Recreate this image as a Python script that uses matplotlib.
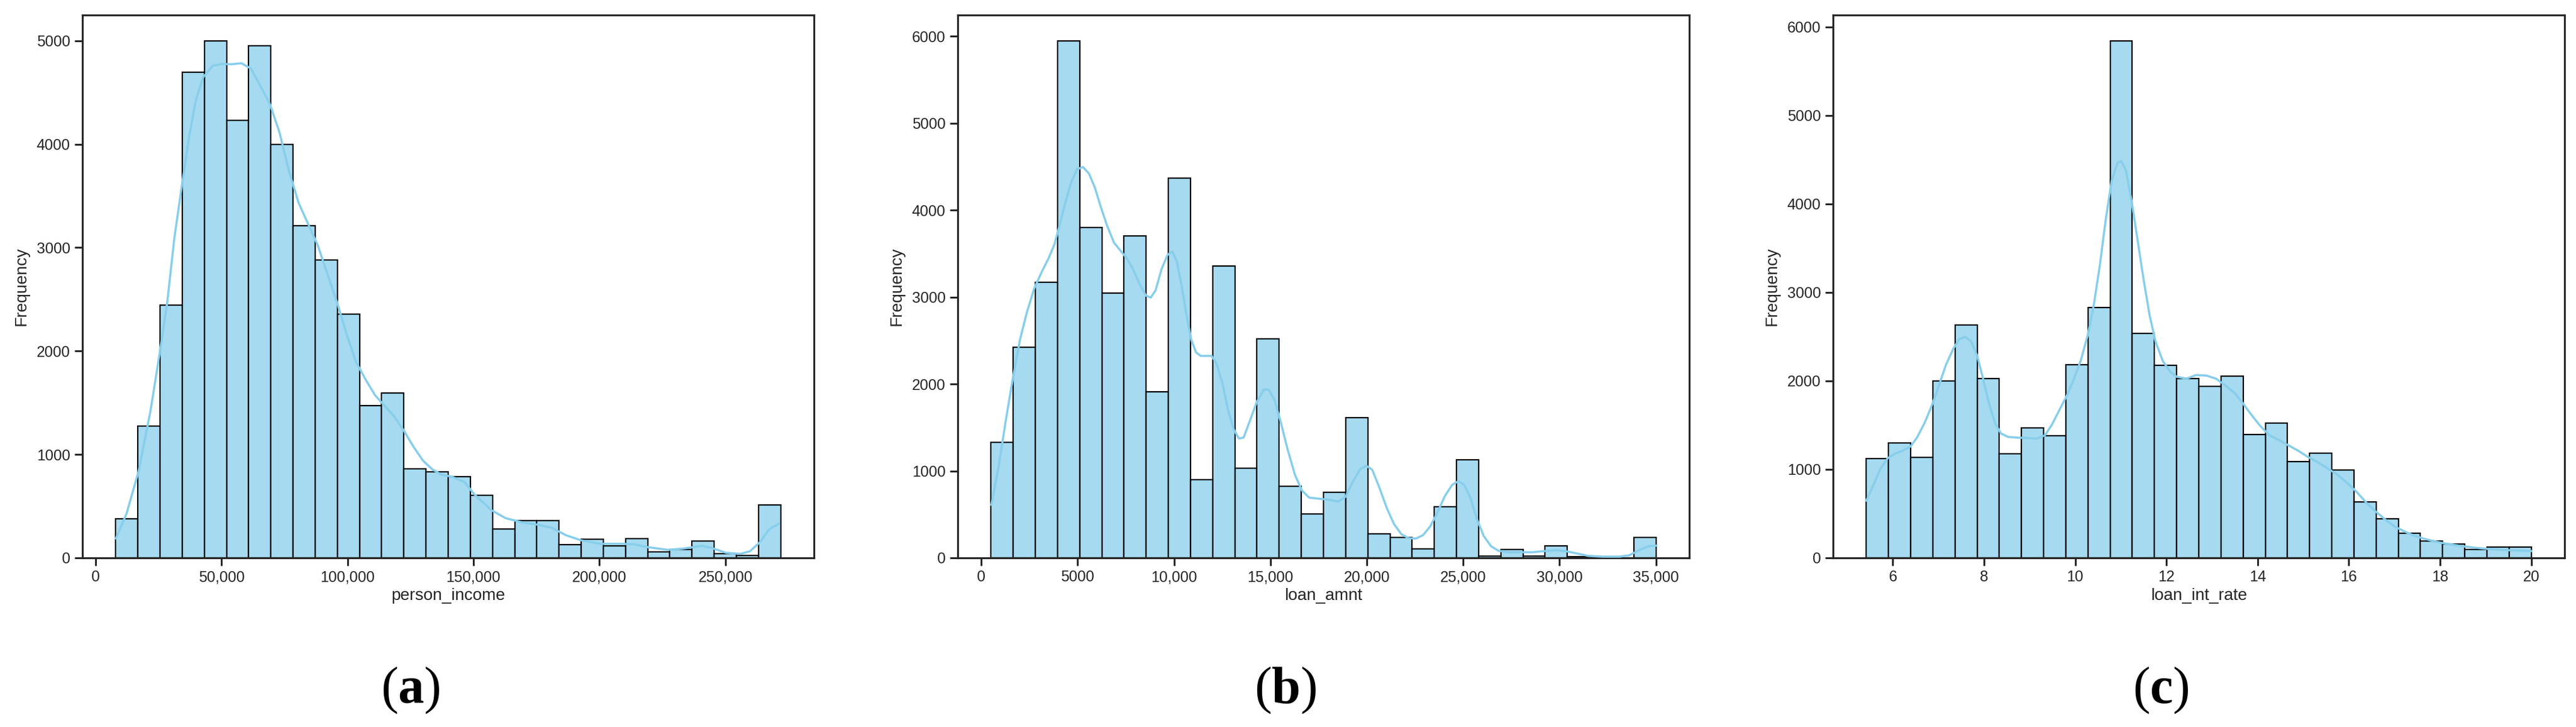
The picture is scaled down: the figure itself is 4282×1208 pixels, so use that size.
import numpy as np
import matplotlib
matplotlib.use("Agg")
import matplotlib.pyplot as plt
from matplotlib.ticker import MultipleLocator, FuncFormatter

plt.rcParams['font.family'] = ['Liberation Sans', 'DejaVu Sans']
plt.rcParams['mathtext.fontset'] = 'custom'
plt.rcParams['mathtext.rm'] = 'Liberation Serif'
plt.rcParams['mathtext.bf'] = 'Liberation Serif:bold'

# ---------------- data ----------------
income_range = (8000, 272000)
income_counts = [378, 1272, 2443, 4695, 4999, 4231, 4951, 3998, 3213, 2879,
                 2356, 1471, 1592, 863, 834, 787, 604, 281, 362, 362,
                 126, 182, 116, 187, 61, 80, 161, 43, 22, 512]
income_kde_x = [8060, 12300, 17100, 21800, 25600, 28500, 31300, 34100, 37000, 39800,
                42700, 46500, 50300, 54100, 57900, 61700, 65500, 69200, 73000, 76800,
                80600, 84400, 88200, 92000, 95800, 99600, 103400, 107200, 111000, 114800,
                118600, 122400, 126200, 130000, 133800, 137500, 141300, 146500, 150300, 157100,
                162800, 169600, 175300, 181100, 186800, 192600, 200300, 208000, 213700, 219500,
                227200, 233000, 240600, 244500, 250300, 256000, 259800, 263700, 267500, 271300]
income_kde_y = [188, 427, 837, 1418, 1999, 2477, 3092, 3570, 4049, 4424,
                4646, 4759, 4776, 4773, 4783, 4732, 4561, 4390, 4117, 3741,
                3434, 3229, 3024, 2750, 2477, 2169, 1896, 1725, 1572, 1469,
                1367, 1230, 1076, 940, 854, 803, 786, 733, 617, 462,
                384, 342, 322, 291, 219, 171, 136, 136, 132, 103,
                78, 89, 116, 97, 49, 39, 64, 151, 278, 330]

loan_range = (500, 35000)
loan_counts = [1330, 2420, 3172, 5946, 3802, 3048, 3700, 1912, 4366, 900,
               3360, 1030, 2517, 824, 505, 756, 1612, 280, 237, 105,
               587, 1128, 18, 98, 18, 140, 11, 4, 3, 238]
loan_kde_x = [519, 889, 1260, 1630, 2001, 2371, 2742, 3112, 3483, 3792,
              4038, 4347, 4656, 4965, 5274, 5582, 5891, 6200, 6509, 6879,
              7250, 7558, 7867, 8238, 8546, 8793, 9040, 9349, 9658, 9905,
              10152, 10399, 10646, 10893, 11140, 11387, 11634, 11943, 12190, 12499,
              12807, 13116, 13363, 13610, 13919, 14289, 14660, 14907, 15216, 15524,
              15895, 16266, 16636, 17007, 17501, 17995, 18515, 18893, 19270, 19648,
              19962, 20277, 20654, 21032, 21410, 21787, 22165, 22542, 22920, 23297,
              23675, 24052, 24430, 24745, 25050, 25374, 25689, 26066, 26443, 26821,
              27325, 27828, 28583, 29338, 29841, 30345, 30848, 31478, 32233, 33114,
              33617, 34121, 34624, 35001]
loan_kde_y = [611, 1039, 1569, 2058, 2506, 2832, 3097, 3280, 3443, 3606,
              3810, 4075, 4319, 4470, 4495, 4421, 4258, 4034, 3830, 3627,
              3525, 3443, 3321, 3138, 3015, 2995, 3077, 3321, 3484, 3525,
              3403, 3117, 2791, 2506, 2363, 2323, 2323, 2323, 2241, 2017,
              1691, 1467, 1373, 1385, 1569, 1793, 1936, 1936, 1813, 1569,
              1243, 958, 774, 693, 681, 670, 648, 702, 875, 1019,
              1061, 1014, 806, 574, 389, 273, 227, 222, 262, 366,
              528, 713, 841, 882, 841, 690, 459, 250, 134, 83,
              65, 65, 65, 81, 88, 76, 53, 23, 14, 14,
              30, 88, 134, 141]

rate_range = (5.42, 20.0)
rate_counts = [1119, 1302, 1134, 1999, 2634, 2028, 1175, 1470, 1382, 2186,
               2830, 5843, 2538, 2175, 2026, 1940, 2055, 1393, 1525, 1090,
               1185, 990, 633, 444, 279, 188, 159, 92, 121, 121]
rate_kde_x = [5.42, 5.58, 5.73, 5.89, 6.05, 6.20, 6.39, 6.54, 6.70, 6.86,
              7.01, 7.17, 7.33, 7.46, 7.59, 7.72, 7.85, 7.98, 8.11, 8.24,
              8.37, 8.53, 8.74, 8.95, 9.15, 9.34, 9.49, 9.65, 9.81, 9.96,
              10.12, 10.28, 10.41, 10.54, 10.67, 10.80, 10.93, 11.01, 11.11, 11.24,
              11.37, 11.50, 11.63, 11.76, 11.92, 12.08, 12.23, 12.44, 12.65, 12.88,
              13.09, 13.30, 13.51, 13.67, 13.83, 14.04, 14.25, 14.47, 14.68, 14.89,
              15.10, 15.32, 15.53, 15.74, 15.95, 16.16, 16.38, 16.59, 16.80, 17.01,
              17.23, 17.44, 17.65, 17.86, 18.07, 18.29, 18.50, 18.71, 18.92, 19.14,
              19.35, 19.56, 19.77, 20.00]
rate_kde_y = [647, 827, 1007, 1127, 1179, 1207, 1259, 1367, 1527, 1727,
              1946, 2186, 2366, 2474, 2498, 2446, 2286, 2026, 1747, 1527,
              1407, 1367, 1359, 1355, 1347, 1387, 1507, 1667, 1827, 2006,
              2226, 2526, 2866, 3305, 3825, 4265, 4464, 4484, 4384, 4025,
              3585, 3145, 2746, 2446, 2226, 2106, 2046, 2026, 2066, 2060,
              2025, 1946, 1855, 1752, 1639, 1502, 1388, 1331, 1270, 1211,
              1142, 1081, 1013, 944, 853, 751, 626, 523, 432, 353,
              296, 250, 216, 189, 166, 148, 132, 118, 107, 98,
              91, 86, 82, 77]

x_labels = ["person_income", "loan_amnt", "loan_int_rate"]
panel_tags = ["a", "b", "c"]

# ---------------- style ----------------
W, H, DPI = 4282, 1208, 100
fig = plt.figure(figsize=(W / DPI, H / DPI), dpi=DPI)
dark = '#262626'
bar_face = (135 / 255, 206 / 255, 235 / 255, 0.75)
line_col = '#87CEEB'

lefts = [137, 1592, 3047]
ax_w, ax_b, ax_top = 1216, 927, 25

def fmt_income(v, pos):
    return f"{v:,.0f}"

def fmt_loan(v, pos):
    return f"{v:,.0f}" if abs(v) >= 10000 else f"{v:.0f}"

def fmt_rate(v, pos):
    return f"{v:.0f}"

panels = [
    (income_range, income_counts, income_kde_x, income_kde_y, 50000, fmt_income),
    (loan_range, loan_counts, loan_kde_x, loan_kde_y, 5000, fmt_loan),
    (rate_range, rate_counts, rate_kde_x, rate_kde_y, 2, fmt_rate),
]

for i, (rng, counts, kx, ky, xstep, fmt) in enumerate(panels):
    ax = fig.add_axes([lefts[i] / W, (H - ax_b) / H, ax_w / W, (ax_b - ax_top) / H])
    edges = np.linspace(rng[0], rng[1], len(counts) + 1)
    ax.bar(edges[:-1], counts, width=np.diff(edges), align='edge',
           facecolor=bar_face, edgecolor='black', linewidth=1.6, zorder=2)
    ax.plot(kx, ky, color=line_col, lw=2.6, zorder=3)
    ax.margins(x=0.05, y=0.05)
    ax.set_ylim(bottom=0)
    ax.xaxis.set_major_locator(MultipleLocator(xstep))
    ax.xaxis.set_major_formatter(FuncFormatter(fmt))
    ax.yaxis.set_major_locator(MultipleLocator(1000))
    ax.yaxis.set_major_formatter(FuncFormatter(lambda v, p: f"{v:.0f}"))
    for s in ax.spines.values():
        s.set_color(dark)
        s.set_linewidth(2.3)
    ax.tick_params(axis='both', which='major', length=9.5, width=2.2, color=dark,
                   labelsize=18, labelcolor=dark, pad=5)
    ax.set_xlabel(x_labels[i], fontsize=20, color=dark, labelpad=4)
    ax.set_ylabel("Frequency", fontsize=20, color=dark, labelpad=9)
    pos = ax.get_position()
    cx = pos.x0 + pos.width / 2 - 63 / W
    fig.text(cx, 1 - 1147 / H, "(" + r"$\mathbf{" + panel_tags[i] + "}$" + ")",
             fontsize=62, family='Liberation Serif', ha='center', va='center',
             color='black')

fig.savefig("out.png", dpi=DPI, facecolor='white')
